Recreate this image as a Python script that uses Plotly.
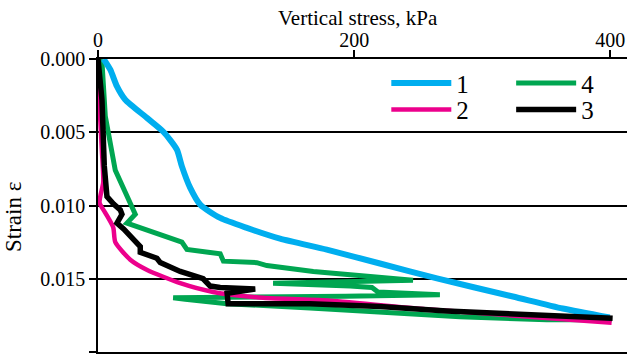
import plotly.graph_objects as go

# Curve 1 (blue)
s1 = [4.4, 9.6, 14.8, 21.3, 38.2, 51.2, 61.6, 65.5, 72.0, 79.8, 95.4, 116.2, 142.1, 178.6, 220.1, 264.6, 323.9, 362.8, 399.5]
e1 = [0.0000, 0.00073, 0.00187, 0.00278, 0.00402, 0.00498, 0.00619, 0.00733, 0.0088, 0.00994, 0.01085, 0.01153, 0.01226, 0.01301, 0.01396, 0.01498, 0.01621, 0.01703, 0.01765]

# Curve 2 (magenta)
s2 = [0, 1.0, 3.0, 4.1, 1.2, 5.7, 11.9, 13.5, 25.2, 38.4, 64.2, 89.9, 128.9, 181.1, 259.1, 401.0]
e2 = [0, 0.0028, 0.0062, 0.0084, 0.0098, 0.0105, 0.0115, 0.0125, 0.0137, 0.0144, 0.0153, 0.0159, 0.0163, 0.0165, 0.0171, 0.0180]

# Curve 3 (black)
s3 = [0, 3.1, 4.9, 7.0, 12.2, 17.4, 18.7, 14.8, 20.0, 25.2, 33.0, 33.0, 46.0, 48.6, 64.2, 82.1, 87.6, 95.4, 122.7, 100.8, 101.6, 165.5, 220.1, 272.1, 323.8, 401.8]
e3 = [0, 0.0028, 0.0073, 0.0094, 0.0099, 0.0103, 0.0106, 0.0112, 0.0116, 0.0121, 0.0128, 0.0132, 0.0136, 0.0139, 0.0145, 0.0150, 0.0155, 0.0156, 0.0157, 0.0160, 0.0167, 0.0167, 0.0169, 0.0172, 0.0174, 0.0177]

# Curve 4 (green)
s4 = [0, 3.1, 5.7, 8.3, 13.5, 21.3, 26.5, 29.1, 22.6, 29.1, 49.9, 65.5, 69.4, 95.4, 97.9, 124.0, 131.8, 168.1, 245.9,
      136.7, 196.9, 213.9, 218.6, 266.9, 192.9, 58.7, 68.1, 100.8, 165.5, 282.5, 350.3, 401.0]
e4 = [0, 0.0002, 0.0039, 0.0053, 0.0076, 0.0091, 0.0102, 0.0106, 0.0112, 0.0114, 0.0120, 0.0125, 0.0130, 0.0133, 0.0138, 0.0139, 0.0141, 0.0145, 0.0151,
      0.0153, 0.0155, 0.0156, 0.0159, 0.0161, 0.0162, 0.0163, 0.0164, 0.0167, 0.0170, 0.0176, 0.0178, 0.0178]

x_ticks = [0, 200, 400]
y_ticks = [0.000, 0.005, 0.010, 0.015, 0.020]
y_labels = ["0.000", "0.005", "0.010", "0.015", "0.020"]

FONT = "Liberation Serif"
LEG_FONT = 25

fig = go.Figure()
fig.add_trace(go.Scatter(x=s4, y=e4, mode="lines", name="4", legend="legend3",
                         line=dict(color="#00A651", width=5)))
fig.add_trace(go.Scatter(x=s2, y=e2, mode="lines", name="2", legend="legend2",
                         line=dict(color="#EC008C", width=4.5, shape="spline", smoothing=0.6)))
fig.add_trace(go.Scatter(x=s1, y=e1, mode="lines", name="1", legend="legend",
                         line=dict(color="#00AEEF", width=6, shape="spline", smoothing=0.6)))
fig.add_trace(go.Scatter(x=s3, y=e3, mode="lines", name="3", legend="legend4",
                         line=dict(color="#000000", width=5.5)))

def leg(x, y):
    return dict(x=x, y=y, xanchor="left", yanchor="middle", bgcolor="rgba(0,0,0,0)",
                font=dict(size=LEG_FONT), itemwidth=60)

fig.update_layout(
    width=627, height=362, showlegend=True,
    margin=dict(l=98, r=0, t=59, b=10, autoexpand=False),
    paper_bgcolor="white", plot_bgcolor="white",
    font=dict(family=FONT, size=20, color="black"),
    legend=leg(0.545, 0.917),
    legend2=leg(0.545, 0.827),
    legend3=leg(0.781, 0.917),
    legend4=leg(0.781, 0.827),
    annotations=[
        dict(text="Strain ε", textangle=-90, xref="paper", yref="paper",
             x=-0.160, y=0.462, xanchor="center", yanchor="middle",
             showarrow=False, font=dict(size=23)),
        dict(text="Vertical stress, kPa", xref="paper", yref="paper",
             x=0.491, y=1.092, xanchor="center", yanchor="bottom",
             showarrow=False, font=dict(size=21)),
    ],
)
fig.update_xaxes(
    side="top", range=[0, 413], tickvals=x_ticks, ticktext=[str(v) for v in x_ticks],
    ticks="outside", ticklen=7, tickwidth=1.5, tickcolor="black", ticklabelstandoff=-5,
    showline=True, mirror=True, linecolor="black", linewidth=1.5, showgrid=False, zeroline=False,
)
fig.update_yaxes(
    range=[0.020, 0.0], tickvals=y_ticks, ticktext=y_labels,
    ticks="outside", ticklen=7, tickwidth=1.5, tickcolor="black",
    showline=True, linecolor="black", linewidth=1.5,
    showgrid=True, gridcolor="black", gridwidth=1.5, zeroline=False,
)

fig.write_html("out.html", config={"displayModeBar": False},
               post_script="document.body.style.margin='0';document.body.style.padding='0';")
